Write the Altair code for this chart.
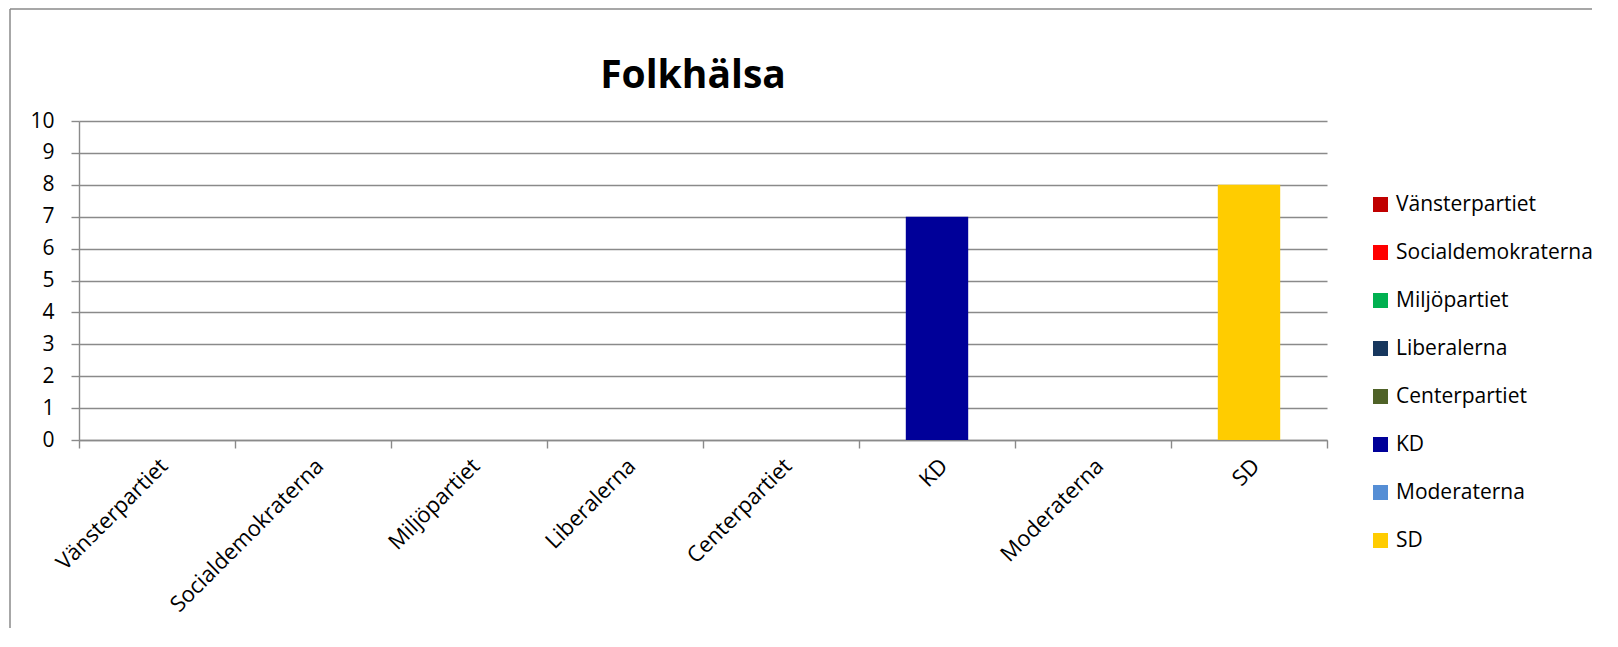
import altair as alt
import pandas as pd

title_text = "Folkhälsa"
categories = ["Vänsterpartiet", "Socialdemokraterna", "Miljöpartiet", "Liberalerna",
              "Centerpartiet", "KD", "Moderaterna", "SD"]
values = [0, 0, 0, 0, 0, 7, 0, 8]
colors = ["#C00000", "#FF0000", "#00B050", "#17375E",
          "#4F6228", "#000099", "#558ED5", "#FFCC00"]
y_ticks = list(range(0, 11))

n = len(categories)
df = pd.DataFrame({"parti": categories, "value": values, "i": list(range(n))})

FONT = "Open Sans"
GRAY = "#8a8a8a"

y_enc = alt.Y("value:Q",
              scale=alt.Scale(domain=[0, 10], nice=False),
              axis=alt.Axis(title=None, values=y_ticks, grid=True, gridColor=GRAY,
                            gridWidth=1.4, tickSize=8, tickColor=GRAY, tickWidth=1.4,
                            domainColor=GRAY, domainWidth=1.4, labelFont=FONT,
                            labelFontSize=21, labelColor="black", labelPadding=17))

bars = alt.Chart(df).mark_bar().encode(
    x=alt.X("parti:N", sort=categories,
            scale=alt.Scale(domain=categories, paddingInner=0.6, paddingOuter=0.3),
            axis=alt.Axis(title=None, orient="bottom", labelAngle=-45, ticks=False,
                          tickSize=0, domain=False, grid=False, labelPadding=15,
                          labelLimit=400,
                          labelFont=FONT, labelFontSize=22, labelColor="black")),
    y=y_enc,
    color=alt.Color("parti:N", sort=categories,
                    scale=alt.Scale(domain=categories, range=colors),
                    legend=alt.Legend(title=None, orient="none", legendX=1291, legendY=73,
                                      symbolType="square", symbolSize=225,
                                      symbolStrokeWidth=0, labelFont=FONT,
                                      labelFontSize=21, labelColor="black",
                                      labelLimit=400,
                                      labelOffset=5, rowPadding=26, padding=0)),
)

ticks = alt.Chart(df).mark_point(opacity=0).encode(
    x=alt.X("i:Q", scale=alt.Scale(domain=[0, n], nice=False, zero=False),
            axis=alt.Axis(title=None, orient="bottom", values=list(range(n + 1)),
                          labels=False, ticks=True, tickSize=8, tickColor=GRAY,
                          tickWidth=1.4, domain=True, domainColor=GRAY,
                          domainWidth=1.4, grid=False)),
    y=y_enc,
)

frame_data = alt.Data(values=[{}])
frame_left = alt.Chart(frame_data).mark_rule(color=GRAY, strokeWidth=1.5).encode(
    x=alt.value(-69), y=alt.value(-112), y2=alt.value(520))
frame_top = alt.Chart(frame_data).mark_rule(color=GRAY, strokeWidth=1.5).encode(
    y=alt.value(-112), x=alt.value(-69), x2=alt.value(1530))

chart = alt.layer(frame_left, frame_top, bars, ticks).resolve_scale(x="independent").properties(
    width=1248, height=319,
    autosize=alt.AutoSizeParams(type="none"),
    padding={"left": 71, "top": 113, "right": 265, "bottom": 188},
    title=alt.TitleParams(title_text, font=FONT, fontSize=39, fontWeight="bold",
                          color="black", anchor="middle", dx=-10,
                          baseline="alphabetic", offset=0, dy=119),
).configure_view(strokeWidth=0)

chart.save("out.html", embed_options={"renderer": "svg", "actions": False})
